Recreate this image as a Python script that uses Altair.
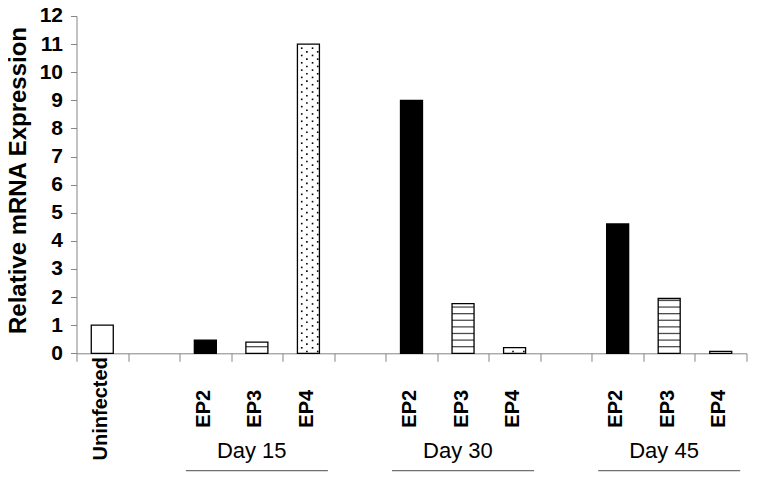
import altair as alt
import pandas as pd

ZW = "\u200b"    # zero-width space keeps repeated labels distinct

# ---- data ----
categories = ["Uninfected", ZW, "EP2", "EP3", "EP4", ZW * 2,
              "EP2" + ZW, "EP3" + ZW, "EP4" + ZW, ZW * 3,
              "EP2" + ZW * 2, "EP3" + ZW * 2, "EP4" + ZW * 2]
bar_keys = ["Uninfected", "EP2", "EP3", "EP4",
            "EP2" + ZW, "EP3" + ZW, "EP4" + ZW,
            "EP2" + ZW * 2, "EP3" + ZW * 2, "EP4" + ZW * 2]
bar_series = ["Uninfected", "EP2", "EP3", "EP4",
              "EP2", "EP3", "EP4", "EP2", "EP3", "EP4"]
bar_values = [1.0, 0.47, 0.4, 11.0, 9.0, 1.77, 0.2, 4.6, 1.95, 0.07]

days = ["Day 15", "Day 30", "Day 45"]
day_mid = ["EP3", "EP3" + ZW, "EP3" + ZW * 2]

y_ticks = list(range(0, 13))

df = pd.DataFrame({"key": bar_keys, "series": bar_series, "value": bar_values})
day_df = pd.DataFrame({"day": days, "mid": day_mid})

FONT = "Liberation Sans"
AXIS_GRAY = "#858585"

x_scale = alt.Scale(domain=categories, paddingInner=0, paddingOuter=0)
y_scale = alt.Scale(domain=[0, 12], nice=False)

x_axis = alt.Axis(
    title=None,
    tickBand="extent",
    tickSize=8,
    tickColor=AXIS_GRAY,
    domainColor=AXIS_GRAY,
    labelAngle=-90,
    labelAlign="center",
    labelBaseline="middle",
    labelFont=FONT,
    labelFontWeight="bold",
    labelColor="black",
    labelFontSize=20,
    labelPadding=47,
    labelOffset=-2,
)

y_axis = alt.Axis(
    values=y_ticks,
    grid=False,
    tickSize=6,
    tickColor=AXIS_GRAY,
    domainColor=AXIS_GRAY,
    labelFont=FONT,
    labelFontWeight="bold",
    labelFontSize=21,
    labelColor="black",
    labelPadding=8,
    titleFont=FONT,
    titleFontWeight="bold",
    titleFontSize=24,
    titleColor="black",
    titleX=-51,
    titleY=164,
    titleAngle=270,
    titleAlign="center",
    titleBaseline="alphabetic",
)


def xk(field, bp=None):
    if bp is None:
        return alt.X(f"{field}:N", scale=x_scale, axis=x_axis, title=None)
    return alt.X(f"{field}:N", scale=x_scale, axis=x_axis, title=None, bandPosition=bp)


def yv(field):
    return alt.Y(f"{field}:Q", scale=y_scale, axis=y_axis, title="Relative mRNA Expression")


base = alt.Chart(df)

bars = base.mark_bar(size=22, stroke="black", strokeWidth=1.3).encode(
    x=xk("key"),
    y=yv("value"),
    fill=alt.Fill("series:N",
                  scale=alt.Scale(domain=["Uninfected", "EP2", "EP3", "EP4"],
                                  range=["white", "black", "white", "white"]),
                  legend=None),
)

stripes = (
    base.transform_filter("datum.series == 'EP3'")
    .transform_calculate(s="sequence(0.235, datum.value, 0.235)")
    .transform_flatten(["s"])
    .mark_tick(orient="horizontal", size=22, thickness=1.3, color="black")
    .encode(x=xk("key"), y=yv("s"))
)


def dot_col(parity, bp):
    return (
        base.transform_filter("datum.series == 'EP4'")
        .transform_calculate(i="sequence(1, floor(datum.value / 0.13) + 1)")
        .transform_flatten(["i"])
        .transform_filter(f"datum.i % 2 == {parity}")
        .transform_calculate(d="datum.i * 0.13 - 0.065")
        .mark_square(size=2.6, color="black", opacity=1)
        .encode(x=xk("key", bp), y=yv("d"))
    )


dots = [dot_col(0, 0.37), dot_col(0, 0.58), dot_col(1, 0.47), dot_col(1, 0.68)]

day_lines = alt.Chart(day_df).mark_tick(
    orient="horizontal", size=142, thickness=1.3, color="#333333"
).encode(
    x=xk("mid", 0.4),
    y=alt.value(454.7),
)

day_text = alt.Chart(day_df).mark_text(
    font=FONT, fontSize=22, align="center", baseline="alphabetic", color="black"
).encode(
    x=xk("mid", 0.4),
    y=alt.value(442),
    text="day:N",
)

chart = (
    alt.layer(bars, stripes, *dots, day_lines, day_text)
    .properties(
        width=670,
        height=337.3,
        autosize=alt.AutoSizeParams(type="none"),
        padding={"left": 68.5, "top": 8, "right": 10, "bottom": 120},
    )
    .configure_view(strokeWidth=0)
)

chart.save("out.html", embed_options={"renderer": "svg", "actions": False})
